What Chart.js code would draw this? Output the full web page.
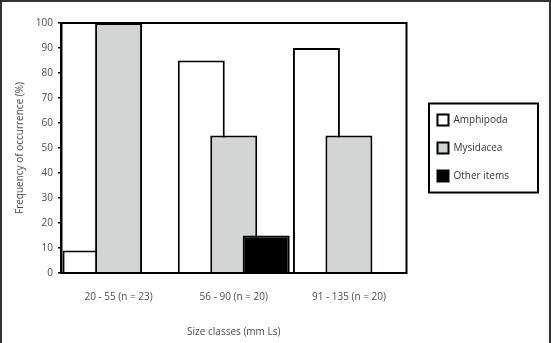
<!DOCTYPE html>
<html>
<head>
<meta charset="utf-8">
<script src="https://cdn.jsdelivr.net/npm/chart.js@4.4.1/dist/chart.umd.min.js"></script>
<style>
  html, body { margin: 0; padding: 0; background: #fff; }
  #wrap { width: 551px; height: 343px; position: relative; }
  canvas { display: block; }
</style>
</head>
<body>
<div id="wrap"><canvas id="c" width="551" height="343"></canvas></div>
<script>
const categories = ['20 - 55 (n = 23)', '56 - 90 (n = 20)', '91 - 135 (n = 20)'];
const seriesNames = ['Amphipoda', 'Mysidacea', 'Other items'];
const amphipoda = [9, 85, 90];
const mysidacea = [100, 55, 55];
const otherItems = [0, 15, 0];
const yTicks = [0, 10, 20, 30, 40, 50, 60, 70, 80, 90, 100];

const TEXT = '#4a4a4a';
const FONT = "'Open Sans', 'DejaVu Sans', sans-serif";

// draw datasets in index order so later series overlap earlier ones
const drawOrder = {
  id: 'drawOrder',
  beforeDatasetsDraw(chart) {
    chart.data.datasets.forEach((d, i) => {
      const meta = chart.getDatasetMeta(i);
      if (chart.isDatasetVisible(i)) meta.controller.draw();
    });
    return false;
  }
};

const frames = {
  id: 'frames',
  beforeDraw(chart) {
    const ctx = chart.ctx;
    ctx.save();
    ctx.fillStyle = '#fff';
    ctx.fillRect(0, 0, chart.width, chart.height);
    ctx.restore();
  },
  afterDraw(chart) {
    const ctx = chart.ctx;
    const a = chart.chartArea;
    ctx.save();
    ctx.strokeStyle = '#333';
    ctx.lineWidth = 2;
    ctx.beginPath();
    ctx.moveTo(1, chart.height);
    ctx.lineTo(1, 1);
    ctx.lineTo(chart.width - 1, 1);
    ctx.lineTo(chart.width - 1, chart.height);
    ctx.stroke();
    ctx.strokeStyle = '#000';
    ctx.lineWidth = 2;
    ctx.strokeRect(a.left, a.top, a.right - a.left, a.bottom - a.top);
    const hb = chart.legend.legendHitBoxes;
    if (hb && hb.length) {
      const first = hb[0], last = hb[hb.length - 1];
      const l = first.left - 8.5;
      const t = first.top - 11;
      const b = last.top + last.height + 11;
      ctx.lineWidth = 2;
      ctx.strokeRect(l, t, 109, b - t);
    }
    ctx.restore();
  }
};

new Chart(document.getElementById('c'), {
  type: 'bar',
  data: {
    labels: categories,
    datasets: [
      { label: seriesNames[0], data: amphipoda, backgroundColor: '#ffffff', borderColor: '#000', borderWidth: 2 },
      { label: seriesNames[1], data: mysidacea, backgroundColor: '#d2d5d3', borderColor: '#000', borderWidth: 2 },
      { label: seriesNames[2], data: otherItems, backgroundColor: '#000000', borderColor: '#000', borderWidth: 2 }
    ]
  },
  options: {
    responsive: false,
    animation: false,
    devicePixelRatio: 1,
    categoryPercentage: 0.846,
    barPercentage: 1.446,
    layout: { padding: { left: 2, top: 23, right: 32, bottom: 3 } },
    plugins: {
      tooltip: { enabled: false },
      legend: {
        position: 'right',
        fullSize: false,
        maxWidth: 200,
        labels: {
          boxWidth: 11,
          boxHeight: 11,
          padding: 17,
          color: '#333',
          font: { family: FONT, size: 10 }
        }
      }
    },
    scales: {
      x: {
        grid: { display: false, drawTicks: false },
        border: { display: true, color: '#000', width: 2 },
        ticks: { color: TEXT, padding: 18, maxRotation: 0, font: { family: FONT, size: 10 } },
        title: {
          display: true, text: 'Size classes (mm Ls)', color: TEXT,
          font: { family: FONT, size: 10 }, padding: { top: 21, bottom: 2 }
        },
        afterFit(scale) { scale.height = 67; }
      },
      y: {
        min: 0, max: 100,
        afterBuildTicks(scale) { scale.ticks = yTicks.map(v => ({ value: v })); },
        grid: { drawOnChartArea: false, drawTicks: true, tickLength: 3, color: '#000', lineWidth: 1.5 },
        border: { display: true, color: '#000', width: 2.5 },
        ticks: { color: TEXT, padding: 5, font: { family: FONT, size: 10 } },
        title: {
          display: true, text: 'Frequency of occurrence (%)', color: TEXT,
          font: { family: FONT, size: 10 }, padding: { top: 12, bottom: 10 }
        },
        afterFit(scale) { scale.width = 59; }
      },
      gap: {
        type: 'linear',
        position: 'right',
        display: true,
        grid: { display: false },
        border: { display: false },
        ticks: { display: false },
        afterFit(scale) { scale.width = 14; }
      }
    }
  },
  plugins: [drawOrder, frames]
});
</script>
</body>
</html>
